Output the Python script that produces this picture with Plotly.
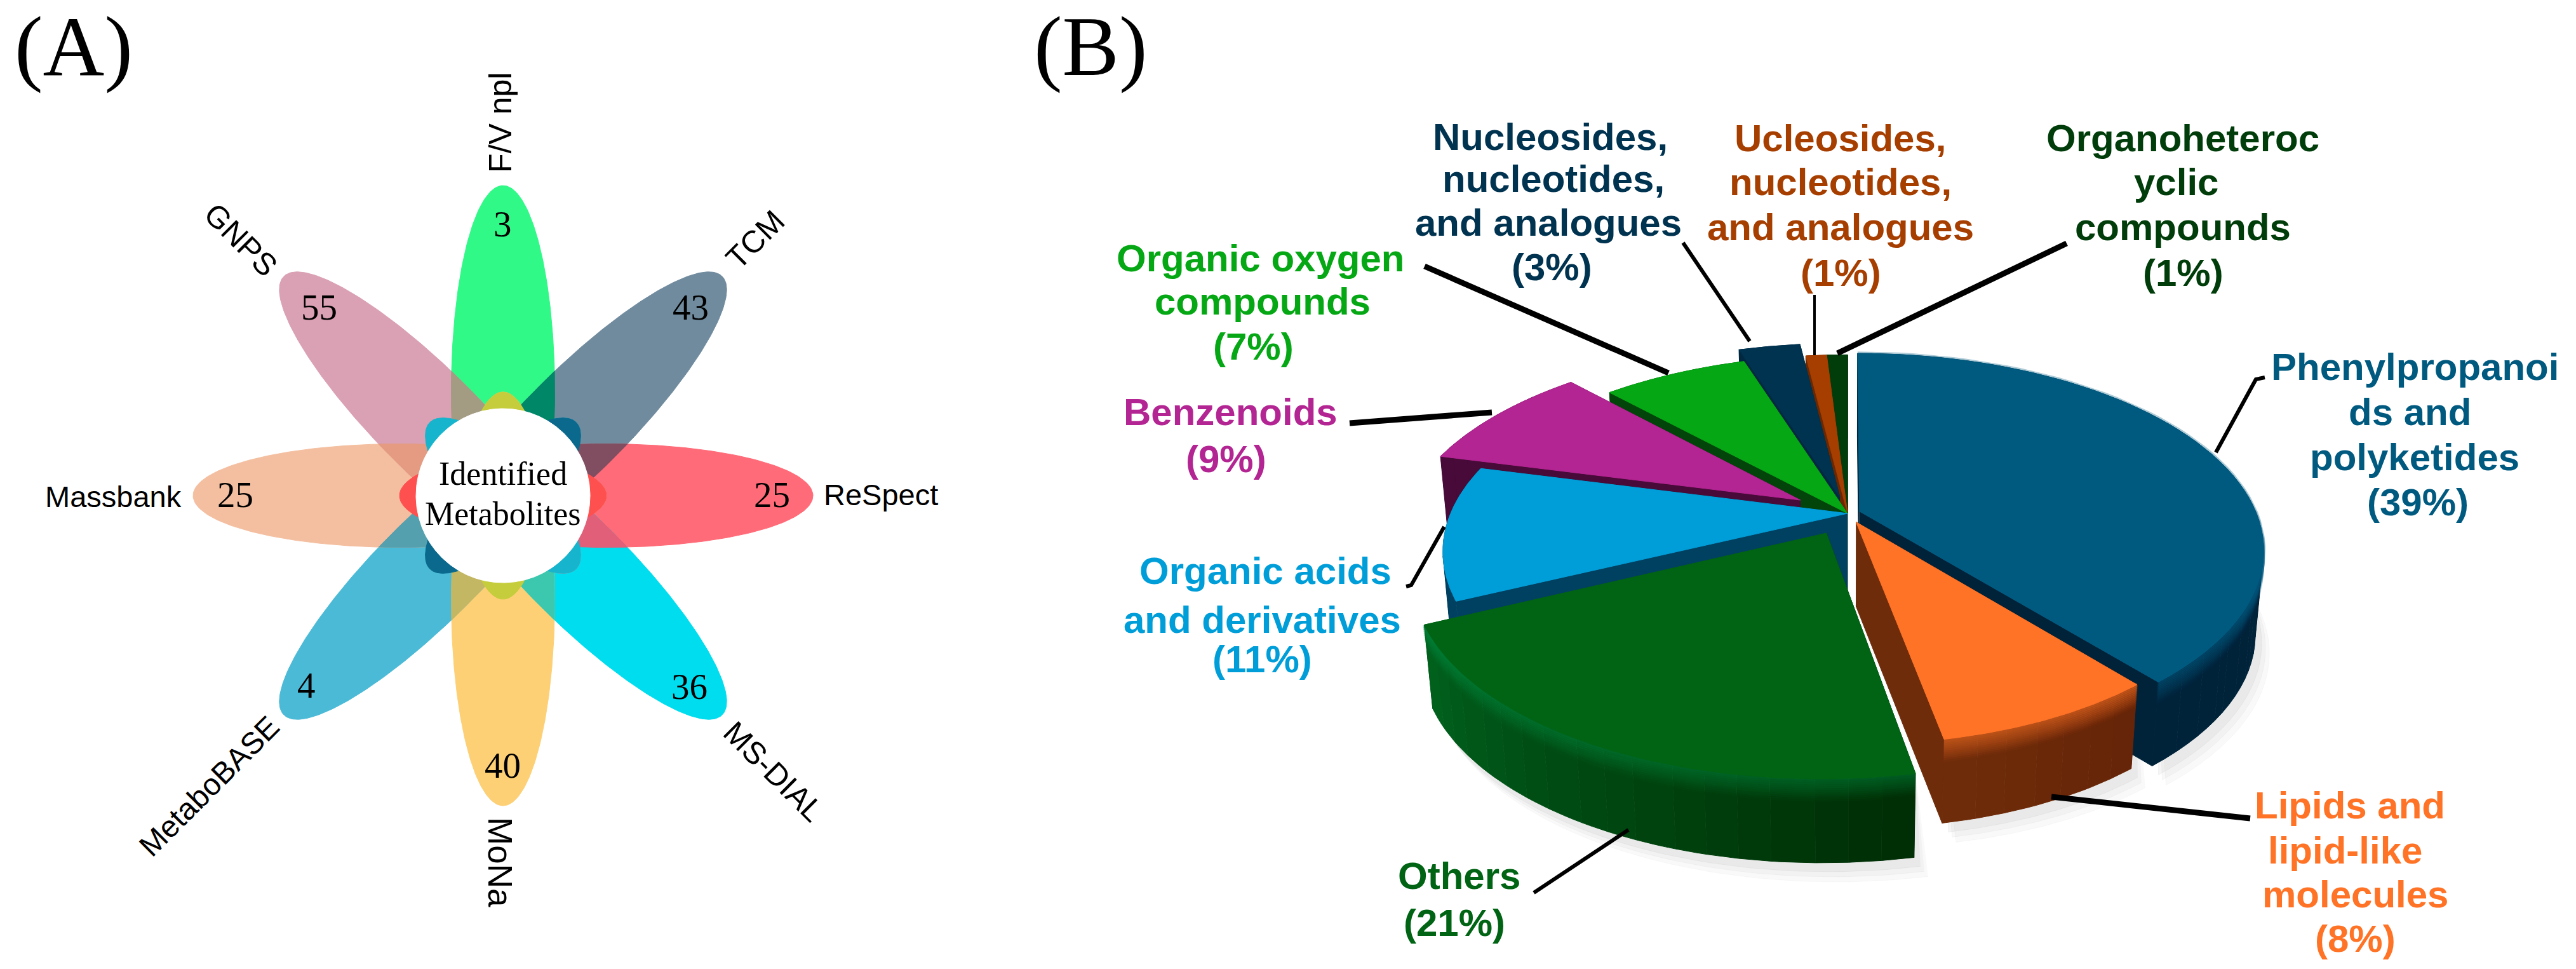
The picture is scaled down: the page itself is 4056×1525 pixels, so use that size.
import numpy as np
import plotly.graph_objects as go

# ---------- panel A data ----------
db_names = ["F/V npl", "TCM", "ReSpect", "MS-DIAL", "MoNa", "MetaboBASE", "Massbank", "GNPS"]
db_counts = [3, 43, 25, 36, 40, 4, 25, 55]

# ---------- panel B data ----------
class_names = ["Phenylpropanoids and polyketides", "Lipids and lipid-like molecules", "Others",
               "Organic acids and derivatives", "Benzenoids", "Organic oxygen compounds",
               "Nucleosides, nucleotides, and analogues", "Ucleosides, nucleotides, and analogues",
               "Organoheterocyclic compounds"]
class_shares = [39, 8, 21, 11, 9, 7, 3, 1, 1]

# ---------- styles / layout ----------
W, H = 4056, 1525
SERIF, SANS = "Liberation Serif", "Liberation Sans"
petal_colors = ["#30F987", "#708B9E", "#FF6B78", "#00DDEE", "#FDD075", "#4ABAD6", "#F4BFA0", "#DAA0B3"]
adjacent_colors = ["#008768", "#804E60", "#E15F78", "#3CC8AF", "#C3B764", "#55A0AF", "#E49B82", "#A39B82"]
opposite_colors = ["#C5CD3C", "#0A698C", "#FF5050", "#17B4CD"]
petal_count_pos = [(791, 352), (1087, 483), (1215, 778), (1085, 1080), (791, 1204), (482, 1078), (370, 778), (502, 483)]
petal_name_pos = [(788, 193, -90, 50), (1189, 377, -45, 49), (1387, 778, 0, 47), (1218, 1214, 45, 49),
                  (788, 1357, 90, 53), (329, 1237, -45, 48), (178, 781, 0, 47), (379, 377, 45, 49)]
FX, FY = 792, 780
P_OUT, P_IN, P_HALF, DISC = 488, 163, 81.5, 137

PX, PY, RX, RY, PERSP, DEPTH = 2909, 808, 625, 298, 0.194, 132
top_colors = ["#005A80", "#FF7326", "#006414", "#009ED9", "#B32592", "#05A814", "#003350", "#A63E00", "#003D0A"]
wall_a = ["#00233A", "#6F2C0A", "#00601C", "#004060", "#480A38", "#03440B", "#002840", "#6B2800", "#002806"]
wall_b = ["#00233A", "#662508", "#002E05", "#004060", "#480A38", "#03440B", "#002840", "#6B2800", "#002806"]
rim_colors = ["#005A80", "#FF7326", "#00853C", None, None, None, None, None, None]
pulls = [0.032, 0.05, 0.115, 0.0, 0.14, 0.0, 0.09, 0.0, 0.0]
radii = [1.0, 0.94, 1.0, 1.0, 1.0, 1.0, 1.0, 1.0, 1.0]
draw_order = [8, 7, 6, 5, 4, 0, 3, 1, 2]
shadow_members = [0, 1, 2]

class_label_lines = [
    [("Phenylpropanoi", 3802, 577), ("ds and", 3794, 648), ("polyketides", 3802, 719), ("(39%)", 3807, 790)],
    [("Lipids and", 3700, 1267), ("lipid-like", 3692, 1338), ("molecules", 3708, 1407), ("(8%)", 3708, 1477)],
    [("Others", 2297, 1378), ("(21%)", 2290, 1452)],
    [("Organic acids", 1992, 898), ("and derivatives", 1987, 975), ("(11%)", 1987, 1037)],
    [("Benzenoids", 1937, 648), ("(9%)", 1930, 722)],
    [("Organic oxygen", 1984, 406), ("compounds", 1988, 474), ("(7%)", 1973, 545)],
    [("Nucleosides,", 2441, 215), ("nucleotides,", 2446, 281), ("and analogues", 2438, 350), ("(3%)", 2443, 420)],
    [("Ucleosides,", 2898, 217), ("nucleotides,", 2898, 286), ("and analogues", 2898, 357), ("(1%)", 2898, 429)],
    [("Organoheteroc", 3437, 217), ("yclic", 3426, 286), ("compounds", 3437, 357), ("(1%)", 3437, 429)],
]
leaders = [
    ([3566, 594, 3552, 597, 3489, 712], 6), ([3543, 1288, 3230, 1254], 9), ([2415, 1405, 2564, 1306], 6),
    ([2214, 923, 2222, 921, 2274, 829], 6), ([2125, 666, 2349, 649], 9), ([2243, 419, 2627, 587], 9),
    ([2650, 382, 2755, 537], 6), ([2857, 464, 2857, 559], 4), ([3254, 383, 2893, 556], 9),
]


def hex_rgb(c):
    return tuple(int(c[i:i + 2], 16) for i in (1, 3, 5))


def mix(c1, c2, t):
    a, b = hex_rgb(c1), hex_rgb(c2)
    return "rgb(%d,%d,%d)" % tuple(round(a[i] + (b[i] - a[i]) * t) for i in range(3))


def rgba(c, alpha):
    return "rgba(%d,%d,%d,%.3f)" % (*hex_rgb(c), alpha)


fig = go.Figure()


def poly(xs, ys, color, name=None):
    fig.add_trace(go.Scatter(x=list(xs), y=list(ys), mode="lines", fill="toself", fillcolor=color,
                             line=dict(color=color, width=1), hoverinfo="skip", showlegend=False, name=name))


# ---------- panel A: flower ----------
def petal_radius(theta, axis_deg):
    """Polar radius, seen from the flower centre, of an ellipse running from -P_IN to P_OUT along axis_deg."""
    phi = theta - np.radians(axis_deg)
    a = (P_OUT + P_IN) / 2
    c = (P_OUT - P_IN) / 2
    A = np.cos(phi) ** 2 / a ** 2 + np.sin(phi) ** 2 / P_HALF ** 2
    B = -2 * c * np.cos(phi) / a ** 2
    C = c ** 2 / a ** 2 - 1
    return (-B + np.sqrt(B ** 2 - 4 * A * C)) / (2 * A)


theta = np.linspace(0, 2 * np.pi, 1441)
axes = [-90 + 45 * i for i in range(len(db_names))]
for name, ax, col in zip(db_names, axes, petal_colors):
    r = petal_radius(theta, ax)
    poly(FX + r * np.cos(theta), FY + r * np.sin(theta), col, name)
for i, col in enumerate(adjacent_colors):
    r = np.minimum(petal_radius(theta, axes[i]), petal_radius(theta, axes[(i + 1) % 8]))
    poly(FX + r * np.cos(theta), FY + r * np.sin(theta), col)
for i, col in enumerate(opposite_colors):
    r = np.minimum(petal_radius(theta, axes[i]), petal_radius(theta, axes[i + 4]))
    poly(FX + r * np.cos(theta), FY + r * np.sin(theta), col)
poly(FX + DISC * np.cos(theta), FY + DISC * np.sin(theta), "#FFFFFF", "centre")


# ---------- panel B: tilted exploded pie ----------
def project(u, v, depth=0.0):
    den = 1 + PERSP * v
    x = RX * u / den * (1 - 0.02 * depth / DEPTH)
    return PX + x, PY - RY * v / den + depth


cum = np.cumsum([0] + class_shares) / sum(class_shares) * 2 * np.pi
spans = [(cum[i], cum[i + 1]) for i in range(len(class_shares))]


def arc_uv(i, n=60):
    a0, a1 = spans[i]
    mid = (a0 + a1) / 2
    du, dv = pulls[i] * np.sin(mid), pulls[i] * np.cos(mid)
    t = np.linspace(a0, a1, n)
    return du, dv, du + radii[i] * np.sin(t), dv + radii[i] * np.cos(t)


# soft shadow under the front slices
for off, alpha in [((22, 30), 0.05), ((16, 22), 0.06), ((10, 14), 0.08)]:
    for i in shadow_members:
        du, dv, us, vs = arc_uv(i)
        x1, y1 = project(us, vs, DEPTH)
        x0, y0 = project(us, vs, 0)
        poly(np.r_[x0, x1[::-1] + off[0]], np.r_[y0, y1[::-1] + off[1]], rgba("#808080", alpha))

for i in draw_order:
    du, dv, us, vs = arc_uv(i)
    # radial side walls
    ax0, ay0 = project(du, dv)
    for end in (0, -1):
        tx, ty = project(us[end], vs[end])
        bx, by = project(us[end], vs[end], DEPTH)
        cx_, cy_ = project(du, dv, DEPTH)
        poly([ax0, tx, bx, cx_], [ay0, ty, by, cy_], wall_a[i] if end == -1 else wall_b[i])
    # outer wall: vertical strips shaded along the arc
    n_strip = max(2, int(np.degrees(spans[i][1] - spans[i][0]) / 4))
    idx = np.linspace(0, len(us) - 1, n_strip + 1).astype(int)
    for s in range(n_strip):
        seg_u, seg_v = us[idx[s]:idx[s + 1] + 1], vs[idx[s]:idx[s + 1] + 1]
        x0, y0 = project(seg_u, seg_v)
        x1, y1 = project(seg_u, seg_v, DEPTH)
        poly(np.r_[x0, x1[::-1]], np.r_[y0, y1[::-1]], mix(wall_b[i], wall_a[i], s / max(1, n_strip - 1)))
    # bevel that fades from the rim into the wall
    if rim_colors[i]:
        for k in range(12):
            x, y = project(us, vs, k * 3)
            fig.add_trace(go.Scatter(x=x, y=y, mode="lines", hoverinfo="skip", showlegend=False,
                                     line=dict(color=rgba(rim_colors[i], 0.32 * (1 - k / 12)), width=6)))
    # top face
    x, y = project(np.r_[du, us, du], np.r_[dv, vs, dv])
    poly(x, y, top_colors[i], class_names[i])

for pts, width in leaders:
    fig.add_trace(go.Scatter(x=pts[0::2], y=pts[1::2], mode="lines", hoverinfo="skip", showlegend=False,
                             line=dict(color="#000000", width=width)))

# ---------- text ----------
def note(text, x, y, size, family, color="#000000", angle=0, bold=False):
    fig.add_annotation(x=x, y=y, text=f"<b>{text}</b>" if bold else text, showarrow=False, textangle=angle,
                       xanchor="center", yanchor="middle", align="center",
                       font=dict(size=size, family=family, color=color))


for value, (x, y) in zip(db_counts, petal_count_pos):
    note(str(value), x, y, 57, SERIF)
for name, (x, y, angle, size) in zip(db_names, petal_name_pos):
    note(name, x, y, size, SANS, angle=angle)
note("Identified", 792, 745, 52, SERIF)
note("Metabolites", 792, 808, 52, SERIF)
note("(A)", 116, 73, 134, SERIF)
note("(B)", 1717, 73, 134, SERIF)
for lines, col in zip(class_label_lines, top_colors):
    for text, x, y in lines:
        note(text, x, y, 60, SANS, color=col, bold=True)

fig.update_xaxes(range=[0, W], visible=False, fixedrange=True)
fig.update_yaxes(range=[H, 0], visible=False, fixedrange=True)
fig.update_layout(width=W, height=H, autosize=False, margin=dict(l=0, r=0, t=0, b=0, pad=0),
                  paper_bgcolor="#FFFFFF", plot_bgcolor="#FFFFFF", showlegend=False)
fig.write_html("out.html", config={"displayModeBar": False},
               post_script="document.body.style.margin='0';document.documentElement.style.overflow='hidden';")
